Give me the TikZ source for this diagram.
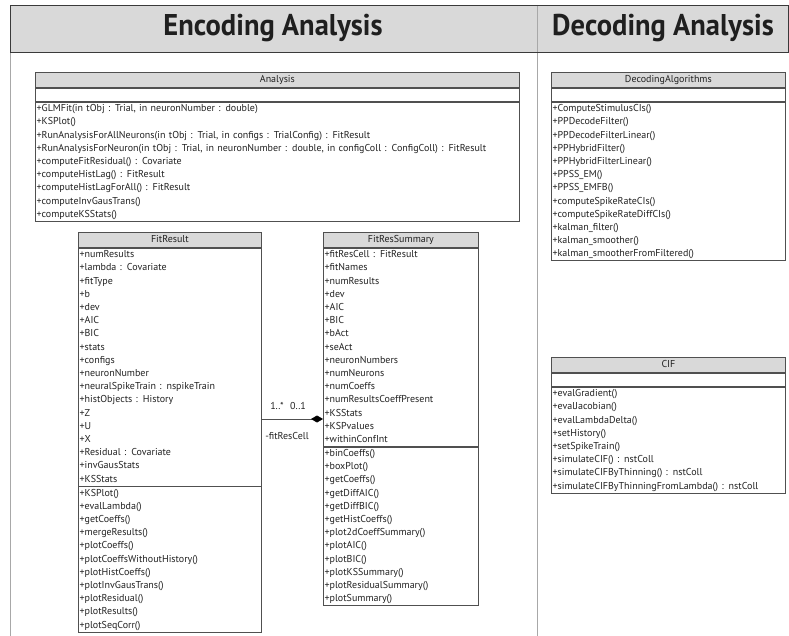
\documentclass[tikz,border=0pt]{standalone}
\usepackage{fontspec}
\setmainfont{PT Sans}[WordSpace=0.7]
\newfontfamily\hdrfont[FakeStretch=0.95]{PT Sans}
\usetikzlibrary{arrows.meta,positioning}
\definecolor{ink}{HTML}{222222}
\definecolor{edg}{HTML}{505050}
\definecolor{frm}{HTML}{3A3A3A}
\definecolor{sep}{HTML}{A8A8A8}
\definecolor{band}{HTML}{D9D9D9}
\newcommand\umlfont{\fontsize{10}{13.2}\selectfont}
\tikzset{
  hdr/.style ={font=\hdrfont\bfseries\fontsize{30}{32}\selectfont,text=black!88,inner sep=0pt},
  ttl/.style ={draw=edg,line width=.8pt,fill=band,font=\umlfont,text=ink,align=center,inner xsep=1.2pt,inner ysep=1pt,execute at begin node=\strut},
  cmp/.style ={draw=edg,line width=.8pt,fill=white,font=\umlfont,text=ink,align=left,inner xsep=1.2pt,inner ysep=0pt,execute at begin node=\strut,execute at end node=\strut},
  mult/.style={font=\umlfont,text=ink,inner sep=0pt},
  own/.style ={-{Diamond[length=12pt,width=7pt,color=black,fill=black]},line width=.8pt,draw=edg},
}

\begin{document}
\begin{tikzpicture}[x=1pt,y=-1pt]
\useasboundingbox (0,0) rectangle (789,636);
% ===== frame + headers =====
\fill[band] (10,5) rectangle (789,52);
\draw[sep,line width=.9pt] (10,52) -- (10,636);
\draw[sep,line width=.9pt] (537,5) -- (537,636);
\draw[frm,line width=.9pt] (788.5,52) -- (788.5,5) -- (10,5) -- (10,52) -- (788.5,52);
\node[hdr] (enc) at (273,28) {Encoding Analysis};
\node[hdr] (dec) at (663,28) {Decoding Analysis};

% ===== Analysis =====
\node[ttl,text width=481.6pt,anchor=north west] (an1) at (35,72) {Analysis};
\node[cmp,text width=481.6pt,below=0pt of an1] (an2) {};
\node[cmp,text width=481.6pt,below=0pt of an2] (an3) {+GLMFit(in tObj : Trial, in neuronNumber : double)\\+KSPlot()\\+RunAnalysisForAllNeurons(in tObj : Trial, in configs : TrialConfig) : FitResult\\+RunAnalysisForNeuron(in tObj : Trial, in neuronNumber : double, in configColl : ConfigColl) : FitResult\\+computeFitResidual() : Covariate\\+computeHistLag() : FitResult\\+computeHistLagForAll() : FitResult\\+computeInvGausTrans()\\+computeKSStats()};

% ===== FitResult =====
\node[ttl,text width=180.6pt,anchor=north west] (fr1) at (78,232) {FitResult};
\node[cmp,text width=180.6pt,below=0pt of fr1] (fr2) {+numResults\\+lambda : Covariate\\+fitType\\+b\\+dev\\+AIC\\+BIC\\+stats\\+configs\\+neuronNumber\\+neuralSpikeTrain : nspikeTrain\\+histObjects : History\\+Z\\+U\\+X\\+Residual : Covariate\\+invGausStats\\+KSStats};
\node[cmp,text width=180.6pt,below=0pt of fr2] (fr3) {+KSPlot()\\+evalLambda()\\+getCoeffs()\\+mergeResults()\\+plotCoeffs()\\+plotCoeffsWithoutHistory()\\+plotHistCoeffs()\\+plotInvGausTrans()\\+plotResidual()\\+plotResults()\\+plotSeqCorr()};

% ===== FitResSummary =====
\node[ttl,text width=152.6pt,anchor=north west] (fs1) at (323,232) {FitResSummary};
\node[cmp,text width=152.6pt,below=0pt of fs1] (fs2) {+fitResCell : FitResult\\+fitNames\\+numResults\\+dev\\+AIC\\+BIC\\+bAct\\+seAct\\+neuronNumbers\\+numNeurons\\+numCoeffs\\+numResultsCoeffPresent\\+KSStats\\+KSPvalues\\+withinConfInt};
\node[cmp,text width=152.6pt,below=0pt of fs2] (fs3) {+binCoeffs()\\+boxPlot()\\+getCoeffs()\\+getDiffAIC()\\+getDiffBIC()\\+getHistCoeffs()\\+plot2dCoeffSummary()\\+plotAIC()\\+plotBIC()\\+plotKSSummary()\\+plotResidualSummary()\\+plotSummary()};

% composition link
\coordinate (lnk) at (0,419);
\draw[own] (fr2.east |- lnk) -- (fs2.west |- lnk);
\node[mult] (m1) at (277,406) {1..*};
\node[mult] (m2) at (298,406) {0..1};
\node[mult] (rl) at (287,436) {-fitResCell};

% ===== DecodingAlgorithms =====
\node[ttl,text width=231.6pt,anchor=north west] (da1) at (551,72) {DecodingAlgorithms};
\node[cmp,text width=231.6pt,below=0pt of da1] (da2) {};
\node[cmp,text width=231.6pt,below=0pt of da2] (da3) {+ComputeStimulusCIs()\\+PPDecodeFilter()\\+PPDecodeFilterLinear()\\+PPHybridFilter()\\+PPHybridFilterLinear()\\+PPSS\_EM()\\+PPSS\_EMFB()\\+computeSpikeRateCIs()\\+computeSpikeRateDiffCIs()\\+kalman\_filter()\\+kalman\_smoother()\\+kalman\_smootherFromFiltered()};

% ===== CIF =====
\node[ttl,text width=231.6pt,anchor=north west] (cf1) at (551,357) {CIF};
\node[cmp,text width=231.6pt,below=0pt of cf1] (cf2) {};
\node[cmp,text width=231.6pt,below=0pt of cf2] (cf3) {+evalGradient()\\+evalJacobian()\\+evalLambdaDelta()\\+setHistory()\\+setSpikeTrain()\\+simulateCIF() : nstColl\\+simulateCIFByThinning() : nstColl\\+simulateCIFByThinningFromLambda() : nstColl};
\end{tikzpicture}
\end{document}
